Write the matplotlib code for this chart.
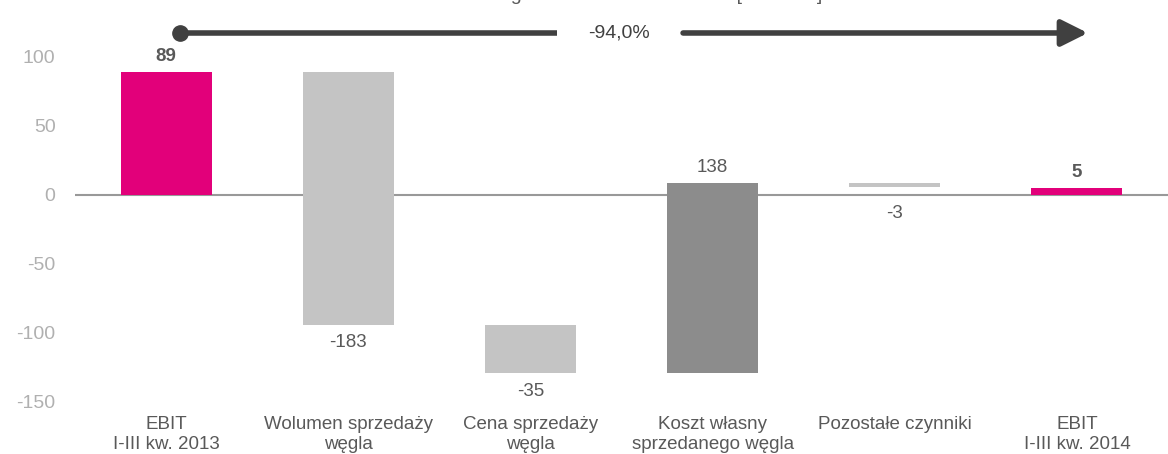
import numpy as np
import matplotlib
matplotlib.use('Agg')
import matplotlib.pyplot as plt

plt.rcParams['font.family'] = ['Liberation Sans', 'DejaVu Sans']
plt.rcParams['axes.unicode_minus'] = False

# Data
categories = ['EBIT\nI-III kw. 2013', 'Wolumen sprzedaży\nwęgla', 'Cena sprzedaży\nwęgla',
              'Koszt własny\nsprzedanego węgla', 'Pozostałe czynniki', 'EBIT\nI-III kw. 2014']
values = [89, -183, -35, 138, -3, 5]
kinds = ['total', 'delta', 'delta', 'delta', 'delta', 'total']
change_label = '-94,0%'
yticks = [-150, -100, -50, 0, 50, 100]

# Colours
pink = '#E2007A'
light = '#C4C4C4'
dark = '#8C8C8C'
txt = '#595959'

fig = plt.figure(figsize=(11.68, 4.54), dpi=100)
ax = fig.add_axes([75/1168, 52/454, 1 - 75/1168, 402/454])

# Compute waterfall bottoms
x = np.arange(len(values))
bottoms = []
heights = []
colors = []
running = 0
for v, k in zip(values, kinds):
    if k == 'total':
        bottoms.append(0)
        heights.append(v)
        colors.append(pink)
        running = v
    else:
        bottoms.append(running)
        heights.append(v)
        colors.append(dark if v > 100 else light)
        running += v

ax.bar(x, heights, bottom=bottoms, width=0.5, color=colors, zorder=2)
ax.axhline(0, color='#999999', lw=1.5, zorder=1)

# Value labels
for i, (v, k, b) in enumerate(zip(values, kinds, bottoms)):
    top = b + v
    weight = 'bold' if k == 'total' else 'normal'
    if v >= 0:
        ax.annotate(str(v), (i, max(top, b)), xytext=(0, 5), textcoords='offset points',
                    ha='center', va='bottom', fontsize=13.5, color=txt, weight=weight)
    else:
        ybase = min(top, 0) if abs(v) < 10 else top
        ax.annotate(str(v), (i, ybase), xytext=(0, -7), textcoords='offset points',
                    ha='center', va='top', fontsize=13.5, color=txt, weight=weight)

ax.set_xlim(-0.5, len(values) - 0.5)
ax.set_ylim(-150, 141.3)
ax.set_yticks(yticks)
ax.set_xticks(x)
ax.set_xticklabels(categories, fontsize=13.5, color=txt, linespacing=1.25)
ax.tick_params(axis='both', length=0)
ax.tick_params(axis='x', pad=10)
ax.tick_params(axis='y', labelsize=14, labelcolor='#B0B0B0', pad=14)
for s in ax.spines.values():
    s.set_visible(False)

# Change arrow over the chart
ay = 117.4
ax.plot([0.076, 2.146], [ay, ay], color='#404040', lw=4, solid_capstyle='butt', clip_on=False)
ax.plot([0.076], [ay], 'o', color='#404040', ms=11, clip_on=False)
ax.annotate('', xy=(5.06, ay), xytext=(2.838, ay),
            arrowprops=dict(arrowstyle='-|>,head_length=1.6,head_width=0.8', color='#404040',
                            lw=4, shrinkA=0, shrinkB=0), annotation_clip=False)
ax.text(2.486, ay, change_label, ha='center', va='center', fontsize=14, color='#404040')

# Title (cut off at the top, as in the source)
fig.text(822/1168, 0.999, 'Zmiana EBIT segmentu w okresie I-III kw. [mln PLN]',
         ha='right', va='baseline', fontsize=14, color=txt)

fig.savefig('out.png', dpi=100)
